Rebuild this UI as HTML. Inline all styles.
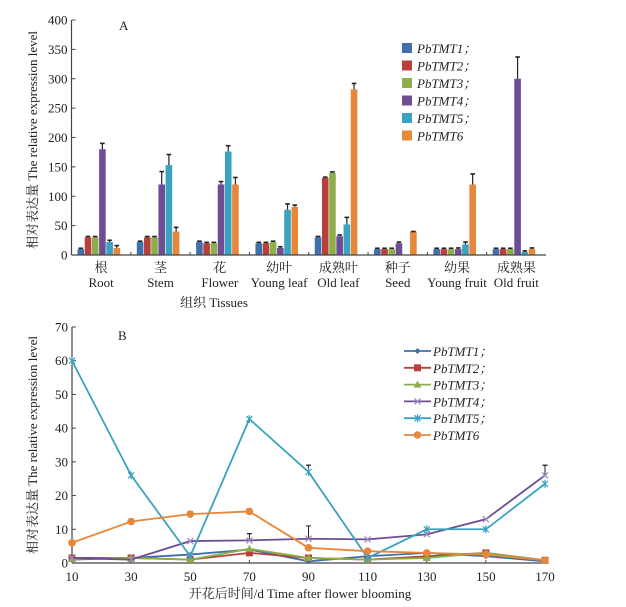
<!DOCTYPE html>
<html><head><meta charset="utf-8"><style>
body{margin:0;background:#fff;}
svg{display:block;font-family:"Liberation Serif","Noto Serif CJK SC",serif;}
</style></head><body>
<svg id="chart" width="626" height="607" viewBox="0 0 626 607"></svg>
<script>
const tissuesCn=["根","茎","花","幼叶","成熟叶","种子","幼果","成熟果"];
const tissuesEn=["Root","Stem","Flower","Young leaf","Old leaf","Seed","Young fruit","Old fruit"];
const geneNames=["PbTMT1","PbTMT2","PbTMT3","PbTMT4","PbTMT5","PbTMT6"];
const tmt1A=[10,22,22,20,30,10,10,10];
const tmt2A=[30,30,20,20,131,10,10,10];
const tmt3A=[30,30,20,22,140,10,10,10];
const tmt4A=[180,120,120,12,32,20,10,300];
const tmt5A=[22,153,176,77,52,0,18,5];
const tmt6A=[12,40,120,82,282,40,120,10];
const err4A=[10,22,5,2,2,2,2,37];
const err5A=[3,18,10,10,12,0,4,2];
const err6A=[4,7,12,3,10,0,18,2];
const yTicksA=[0,50,100,150,200,250,300,350,400];
const timesB=[10,30,50,70,90,110,130,150,170];
const tmt1B=[1,1.5,2.5,4,0.5,2,3,2,0.5];
const tmt2B=[1.5,1.5,1,3,1.5,1,2,3,0.8];
const tmt3B=[1.2,1.5,1,4.2,1.5,1,1.5,3,0.8];
const tmt4B=[1.5,1,6.5,6.7,7.2,7,8.5,13,26];
const tmt5B=[60,26,2,42.7,27,1.5,10,10,23.5];
const tmt6B=[6,12.3,14.5,15.3,4.5,3.5,3,2.5,0.8];
const yTicksB=[0,10,20,30,40,50,60,70];
const colors=["#3f6fad","#b7403b","#8dae4a","#6d4e95","#3aa3bf","#e6873a"];

const NS="http://www.w3.org/2000/svg";
const svg=document.getElementById('chart');
function mk(tag,attrs,parent,text){const e=document.createElementNS(NS,tag);for(const k in attrs)e.setAttribute(k,attrs[k]);if(text!==undefined)e.textContent=text;(parent||svg).appendChild(e);return e;}

// ---------- Chart A ----------
const ax0=71.5,ax1=546,ay0=255,ay1=20;
const yA=v=>ay0-(v/400)*(ay0-ay1);
const band=(ax1-ax0)/8;
const xBand=i=>ax0+i*band;
const gA=mk('g',{});

const seriesA=[tmt1A,tmt2A,tmt3A,tmt4A,tmt5A,tmt6A];
const errA=[null,null,null,err4A,err5A,err6A];
seriesA.forEach((s,k)=>{
  s.forEach((v,i)=>{
    const x=xBand(i)+6+k*7.2;
    const r=mk('rect',{x:x,y:yA(v),width:6.6,height:ay0-yA(v),fill:colors[k]},gA);
    
    
    const e=errA[k]?errA[k][i]:1.5;
    if(v>0){
      mk('line',{x1:x+3.3,x2:x+3.3,y1:yA(v),y2:yA(v+e),stroke:'#222','stroke-width':1.2},gA);
      mk('line',{x1:x+1,x2:x+5.6,y1:yA(v+e),y2:yA(v+e),stroke:'#222','stroke-width':1.6},gA);
    }
  });
});
mk('line',{x1:ax0,x2:ax0,y1:ay1,y2:ay0,stroke:'#444','stroke-width':1.2},gA);
mk('line',{x1:ax0,x2:ax1,y1:ay0,y2:ay0,stroke:'#444','stroke-width':1.2},gA);
yTicksA.forEach(t=>{
  mk('line',{x1:ax0,x2:ax0+4,y1:yA(t),y2:yA(t),stroke:'#444'},gA);
  const tx=mk('text',{x:ax0-4,y:yA(t)+4.5,'text-anchor':'end','font-size':13,fill:'#222'},gA,t);
  
});
for(let i=1;i<8;i++) mk('line',{x1:xBand(i),x2:xBand(i),y1:ay0,y2:ay0-3,stroke:'#444'},gA);
tissuesCn.forEach((c,i)=>{
  const cx=xBand(i)+band/2;
  const t1=mk('text',{x:cx,y:272,'text-anchor':'middle','font-size':13,fill:'#222'},gA,c);
  
  const t2=mk('text',{x:cx,y:287,'text-anchor':'middle','font-size':13,fill:'#222'},gA,tissuesEn[i]);
  
});
</script>
<script>
(function(){
const at=mk('text',{x:214,y:307,'text-anchor':'middle','font-size':13,fill:'#222'},svg,"组织 Tissues");

const yt=mk('text',{x:0,y:0,'text-anchor':'middle','font-size':13,fill:'#222',transform:'translate(37,140) rotate(-90)'},svg,"相对表达量 The relative expression level");

const pa=mk('text',{x:119,y:30,'font-size':13,fill:'#222'},svg,"A");

geneNames.forEach((g,k)=>{
  const y=48+k*17.5;
  const lg=mk('g',{});
  
  mk('rect',{x:402,y:y-5,width:10,height:10,fill:colors[k]},lg);
  mk('text',{x:417,y:y+5,'font-size':13,'font-style':'italic',fill:'#222'},lg,g+(k<5?"；":""));
});

// ---------- Chart B ----------
const bx0=72,bx1=545,by0=563,by1=327;
const xB=t=>bx0+(t-10)/160*(bx1-bx0);
const yB=v=>by0-v/70*(by0-by1);
const gB=mk('g',{});

mk('line',{x1:bx0,x2:bx0,y1:by1,y2:by0,stroke:'#444','stroke-width':1.2},gB);
mk('line',{x1:bx0,x2:bx1,y1:by0,y2:by0,stroke:'#444','stroke-width':1.2},gB);
yTicksB.forEach(t=>{
  mk('line',{x1:bx0,x2:bx0+4,y1:yB(t),y2:yB(t),stroke:'#444'},gB);
  const tx=mk('text',{x:bx0-4,y:yB(t)+4.5,'text-anchor':'end','font-size':13,fill:'#222'},gB,t);
  
});
timesB.forEach(t=>{
  mk('line',{x1:xB(t),x2:xB(t),y1:by0,y2:by0-3,stroke:'#444'},gB);
  const tx=mk('text',{x:xB(t),y:581,'text-anchor':'middle','font-size':13,fill:'#222'},gB,t);
  
});
const seriesB=[tmt1B,tmt2B,tmt3B,tmt4B,tmt5B,tmt6B];
function marker(k,x,y,p){
  const c=colors[k];
  if(k===0) mk('path',{d:`M${x-3},${y}L${x},${y-3}L${x+3},${y}L${x},${y+3}Z`,fill:c},p);
  else if(k===1) mk('rect',{x:x-3.5,y:y-3.5,width:7,height:7,fill:c},p);
  else if(k===2) mk('path',{d:`M${x-4},${y+3}L${x},${y-4}L${x+4},${y+3}Z`,fill:c},p);
  else if(k===3){mk('path',{d:`M${x-3},${y-3}L${x+3},${y+3}M${x-3},${y+3}L${x+3},${y-3}`,stroke:'#9a86c0','stroke-width':1.2},p);}
  else if(k===4){mk('path',{d:`M${x-3},${y-3}L${x+3},${y+3}M${x-3},${y+3}L${x+3},${y-3}M${x},${y-4}L${x},${y+4}`,stroke:c,'stroke-width':1.2},p);}
  else mk('circle',{cx:x,cy:y,r:3.8,fill:c},p);
}
const errB={4:[0,0,0,0,2,0,0,0,0],3:[0,0,0,2,0,0,0,0,3],5:[0,0.7,0.7,0.7,0,0,0,0,0]};
seriesB.forEach((s,k)=>{
  const sg=mk('g',{});
  
  mk('polyline',{points:s.map((v,i)=>xB(timesB[i])+','+yB(v)).join(' '),fill:'none',stroke:colors[k],'stroke-width':1.8},sg);
  s.forEach((v,i)=>{
    const e=errB[k]?errB[k][i]:0;
    if(e>0){
      mk('line',{x1:xB(timesB[i]),x2:xB(timesB[i]),y1:yB(v),y2:yB(v+e),stroke:'#222'},sg);
      mk('line',{x1:xB(timesB[i])-2.5,x2:xB(timesB[i])+2.5,y1:yB(v+e),y2:yB(v+e),stroke:'#222','stroke-width':1.3},sg);
    }
    marker(k,xB(timesB[i]),yB(v),sg);
  });
});
// extra error bars for PbTMT4 at 70/90
[[70,4.3+6.7-4.3,9],[90,7.2,11]].forEach(()=>{});
mk('line',{x1:xB(90),x2:xB(90),y1:yB(7.2),y2:yB(11),stroke:'#222'},gB);
mk('line',{x1:xB(90)-2.5,x2:xB(90)+2.5,y1:yB(11),y2:yB(11),stroke:'#222'},gB);
const pb=mk('text',{x:118,y:340,'font-size':13,fill:'#222'},svg,"B");

const xt=mk('text',{x:300,y:598,'text-anchor':'middle','font-size':13,fill:'#222'},svg,"开花后时间/d   Time after flower blooming");

const yt2=mk('text',{x:0,y:0,'text-anchor':'middle','font-size':13,fill:'#222',transform:'translate(37,445) rotate(-90)'},svg,"相对表达量 The relative expression level");

geneNames.forEach((g,k)=>{
  const y=351+k*16.8;
  const lg=mk('g',{});
  
  mk('line',{x1:404,x2:431,y1:y,y2:y,stroke:colors[k],'stroke-width':1.8},lg);
  marker(k,417.5,y,lg);
  mk('text',{x:433,y:y+5,'font-size':13,'font-style':'italic',fill:'#222'},lg,g+(k<5?"；":""));
});
})();
</script>
</body></html>
